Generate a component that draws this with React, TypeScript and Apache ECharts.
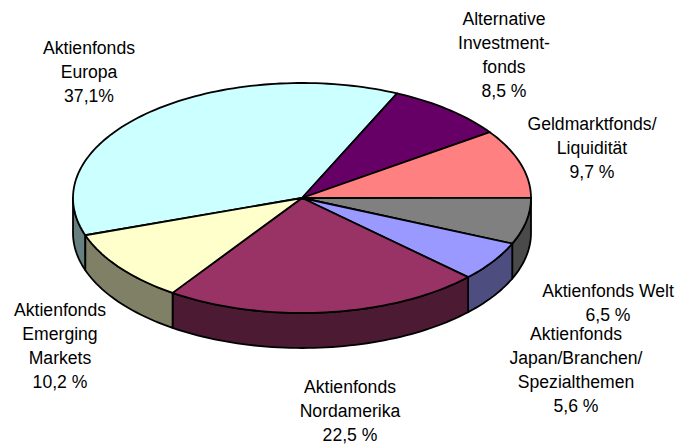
import React, { useEffect, useRef } from "react";
import * as echarts from "echarts";

const categories = [
  "Aktienfonds Europa",
  "Alternative Investmentfonds",
  "Geldmarktfonds/Liquidität",
  "Aktienfonds Welt",
  "Aktienfonds Japan/Branchen/Spezialthemen",
  "Aktienfonds Nordamerika",
  "Aktienfonds Emerging Markets",
];
const values = [37.1, 8.5, 9.7, 6.5, 5.6, 22.5, 10.2];
const valueTexts = ["37,1%", "8,5 %", "9,7 %", "6,5 %", "5,6 %", "22,5 %", "10,2 %"];
const labelLines = [
  ["Aktienfonds", "Europa"],
  ["Alternative", "Investment-", "fonds"],
  ["Geldmarktfonds/", "Liquidität"],
  ["Aktienfonds Welt"],
  ["Aktienfonds", "Japan/Branchen/", "Spezialthemen"],
  ["Aktienfonds", "Nordamerika"],
  ["Aktienfonds", "Emerging", "Markets"],
];
const topColors = ["#CCFFFF", "#660066", "#FF8080", "#808080", "#9999FF", "#993366", "#FFFFCC"];
const sideColors = ["#668080", "#330033", "#804040", "#4A4A4A", "#4D4D80", "#4D1A33", "#808066"];

const CX = 302;
const CY = 198;
const RX = 229;
const RY = 115;
const DEPTH = 35;
const START = -108.9; // degrees clockwise from north
const LINE_STEP = 23.7;
const total = values.reduce((a, b) => a + b, 0);
const labelAnchors: [number, number][] = [
  [89, 72],
  [504, 55],
  [592, 148],
  [608, 303],
  [576, 370],
  [350, 411],
  [60, 346],
];

const pt = (deg: number, dy = 0): number[] => {
  const r = (deg * Math.PI) / 180;
  return [CX + RX * Math.sin(r), CY - RY * Math.cos(r) + dy];
};
const sliceRange = (i: number) => {
  const before = values.slice(0, i).reduce((a, b) => a + b, 0);
  return [START + (before / total) * 360, START + ((before + values[i]) / total) * 360];
};
const arc = (a: number, b: number, dy = 0) => {
  const out: number[][] = [];
  const n = Math.max(2, Math.ceil(Math.abs(b - a) / 1.5));
  for (let k = 0; k <= n; k++) out.push(pt(a + ((b - a) * k) / n, dy));
  return out;
};
// visible rim: the lower half of the ellipse, 90..270 degrees and its -270..-90 equivalent
const visibleParts = (a: number, b: number) => {
  const parts: number[][] = [];
  for (const [lo, hi] of [[-270, -90], [90, 270]]) {
    const s = Math.max(a, lo);
    const e = Math.min(b, hi);
    if (e > s) parts.push([s, e]);
  }
  return parts;
};

const line = { stroke: "#000", lineWidth: 1.8, lineJoin: "round" as const };

const renderSide = (params: any) => {
  const i = params.dataIndex;
  const [a, b] = sliceRange(i);
  return {
    type: "group",
    children: visibleParts(a, b).map(([s, e]) => ({
      type: "polygon",
      shape: { points: [...arc(s, e), ...arc(e, s, DEPTH)] },
      style: { fill: sideColors[i], ...line },
    })),
  };
};
const renderTop = (params: any) => {
  const i = params.dataIndex;
  const [a, b] = sliceRange(i);
  return {
    type: "polygon",
    shape: { points: [[CX, CY], ...arc(a, b)] },
    style: { fill: topColors[i], ...line },
  };
};

export default function App() {
  const ref = useRef<HTMLDivElement>(null);
  useEffect(() => {
    const chart = echarts.init(ref.current!, undefined, { renderer: "svg" });
    const seriesData = categories.map((name, i) => ({ name, value: values[i] }));
    const labels = labelLines.flatMap((lines, i) => {
      const all = [...lines, valueTexts[i]];
      return all.map((text, k) => ({
        type: "text",
        x: labelAnchors[i][0],
        y: labelAnchors[i][1] + (k - (all.length - 1) / 2) * LINE_STEP,
        z: 5,
        style: {
          text,
          fontFamily: "Liberation Sans",
          fontSize: 17.6,
          fill: "#000",
          align: "center",
          verticalAlign: "middle",
        },
      }));
    });
    chart.setOption({
      animation: false,
      backgroundColor: "#fff",
      series: [
        { type: "custom", coordinateSystem: "none", data: seriesData, renderItem: renderSide, z: 1, silent: true },
        { type: "custom", coordinateSystem: "none", data: seriesData, renderItem: renderTop, z: 2, silent: true },
      ],
      graphic: labels,
    });
    return () => chart.dispose();
  }, []);
  return <div ref={ref} style={{ position: "fixed", left: 0, top: 0, width: 681, height: 444 }} />;
}
